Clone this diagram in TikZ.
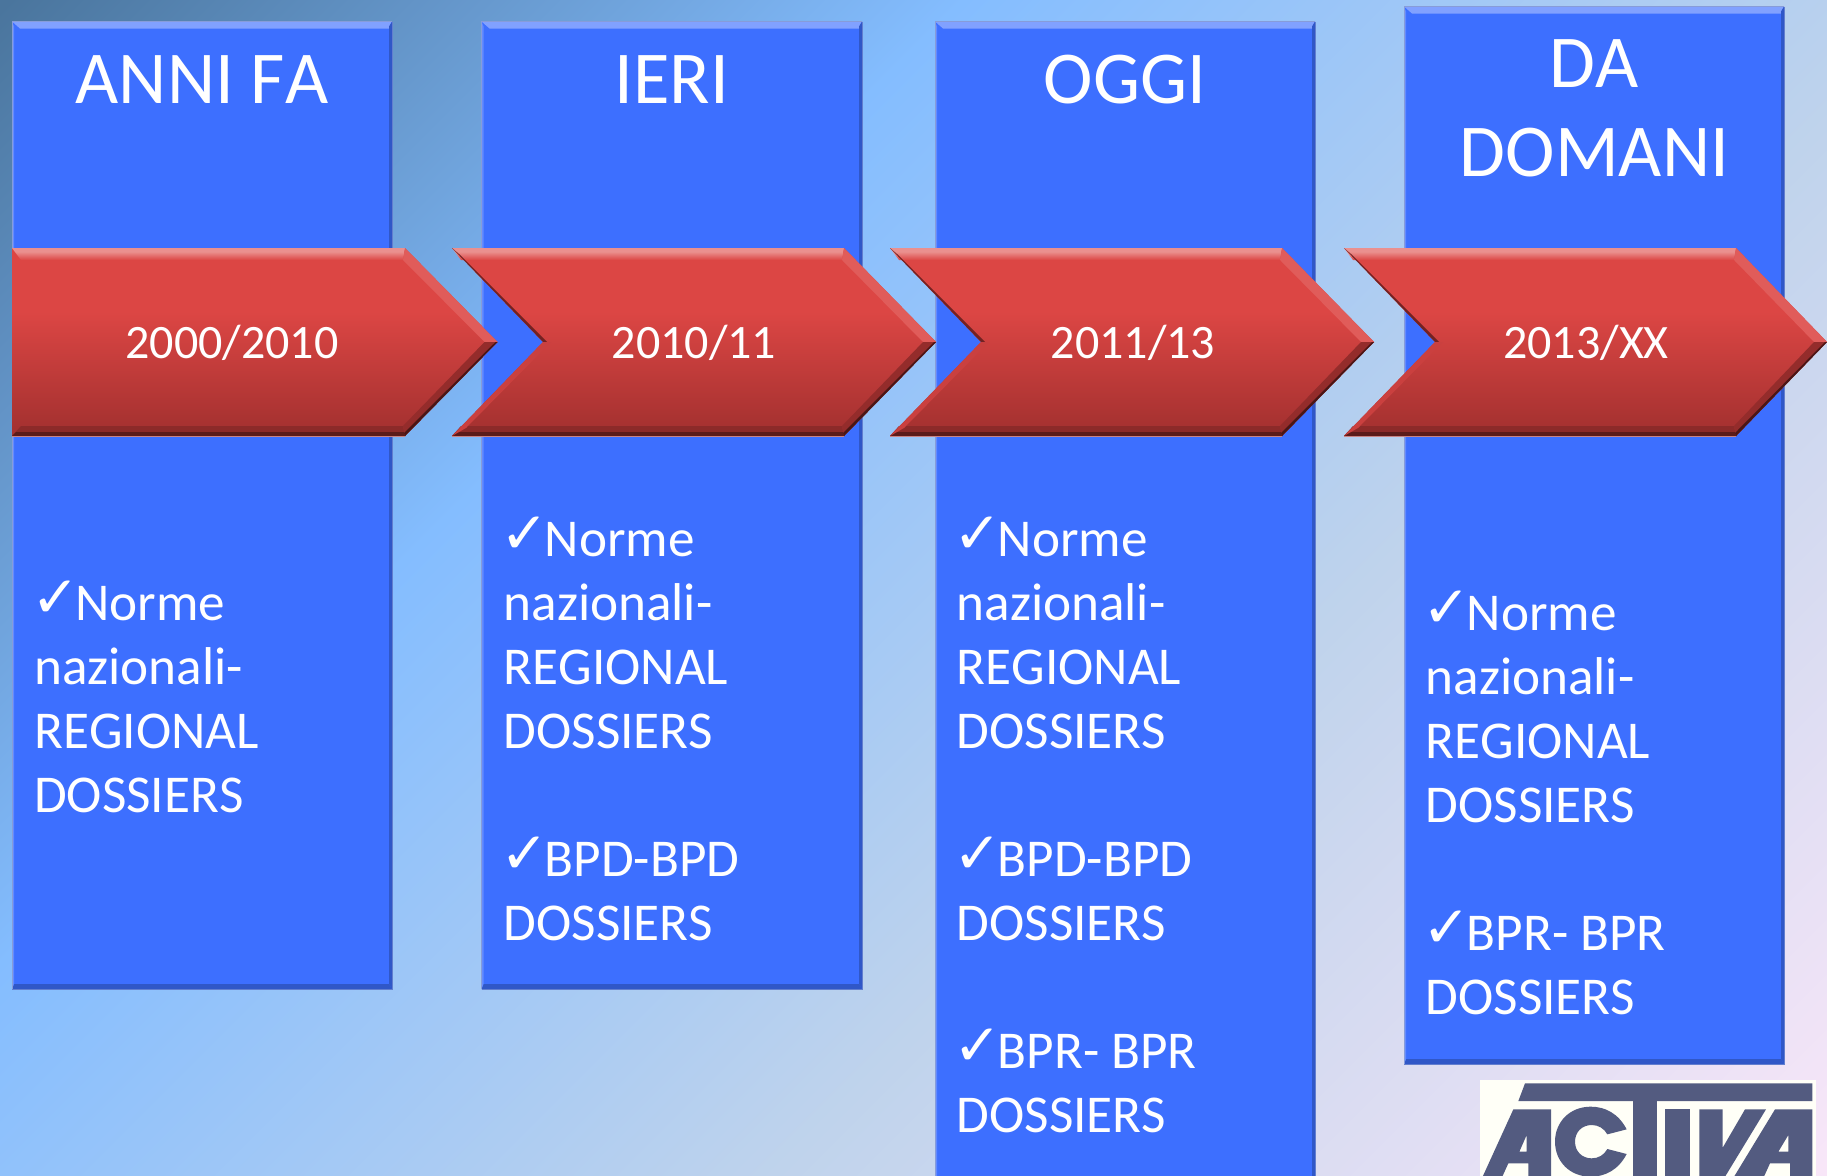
\documentclass[tikz,border=0pt]{standalone}
\usepackage{fontspec}
\setmainfont[Kerning=Off]{Carlito}
\newfontfamily\dejavu{DejaVu Sans}
\usetikzlibrary{calc}
\definecolor{bgA}{HTML}{4A759D}
\definecolor{bgB}{HTML}{84BDFF}
\definecolor{bgC}{HTML}{BFD3EC}
\definecolor{bgD}{HTML}{F8E6F8}
\definecolor{colblue}{HTML}{3D6FFF}
\definecolor{logoblue}{HTML}{535B80}
\definecolor{redtop}{HTML}{DC4644}
\definecolor{redbot}{HTML}{A53130}
\pgfdeclarehorizontalshading{bgshade}{100bp}{color(0bp)=(bgA); color(25bp)=(bgA); color(41bp)=(bgB); color(57.5bp)=(bgC); color(75bp)=(bgD); color(100bp)=(bgD)}
\pgfdeclareverticalshading{redshade}{100bp}{color(0bp)=(redbot); color(27bp)=(redbot); color(58bp)=(redtop); color(75bp)=(redtop); color(100bp)=(redtop)}
\pgfdeclareverticalshading{redtopshade}{100bp}{color(0bp)=(redtop); color(25bp)=(redtop); color(60bp)=(redtop!60!white); color(75bp)=(redtop!60!white); color(100bp)=(redtop!60!white)}
\tikzset{
  headtext/.style={text=white,font=\fontsize{74.6}{89}\selectfont,align=center,inner sep=0pt},
  bodytext/.style={text=white,font=\fontsize{53.2}{64}\selectfont,align=left,inner sep=0pt,anchor=north west},
  yeartext/.style={text=white,font=\fontsize{48}{56}\selectfont,inner sep=0pt,anchor=base},
  colface/.style={fill=colblue},
  logoink/.style={fill=logoblue,even odd rule}
}
\newcommand{\ck}{\makebox[41pt][l]{\hspace*{-3pt}\raisebox{3pt}{\dejavu\fontsize{58}{58}\selectfont ✓}}}
\newcommand{\topstrut}{\rule{0pt}{50pt}}
\newcommand{\colbox}[4]{% x1 y1 x2 y2
  \fill[colface] (#1,#2) rectangle (#3,#4);
  \fill[fill=white!35!colblue] (#1,#2) -- (#3,#2) -- (#3-3,#2+7) -- (#1+8,#2+7) -- cycle;
  \fill[fill=black!22!colblue] (#3,#2) -- (#3,#4) -- (#3-3,#4-5) -- (#3-3,#2+5) -- cycle;
  \fill[fill=black!22!colblue] (#1,#4) -- (#3,#4) -- (#3-3,#4-5) -- (#1+2,#4-5) -- cycle;
  \fill[fill=white!20!colblue] (#1,#2) -- (#1,#4) -- (#1+2,#4-5) -- (#1+2,#2+5) -- cycle;
  \draw[color=black!25!colblue!75!white,line width=1pt] (#1,#4) -- (#3,#4) -- (#3,#2);
  \draw[color=white!40!colblue!70!gray,line width=1pt] (#1,#4) -- (#1,#2) -- (#3,#2);
}
% left x, notch depth, shoulder x, tip x
\newcommand{\chev}[4]{%
  \path[shading=redshade] (#1,248) -- (#3,248) -- (#4,342) -- (#3,436) -- (#1,436) -- (#1+#2,342) -- cycle;
  \path[shading=redtopshade] (#1,248) -- (#3,248) -- (#3-2,260) -- (#1+9,260) -- cycle;
  \fill[fill=redtop!88!white] (#3,248) -- (#4,342) -- (#4-13,342) -- (#3-2,260) -- cycle;
  \fill[fill=redbot!85!black] (#1,436) -- (#3,436) -- (#3-2,426) -- (#1+9,426) -- cycle;
  \fill[fill=redbot!55!black] (#1,436) -- (#3,436) -- (#3-1,432) -- (#1+4,432) -- cycle;
  \fill[fill=redbot!90!black] (#3,436) -- (#4,342) -- (#4-13,342) -- (#3-2,426) -- cycle;
  \fill[fill=redbot!45!black] (#3,436) -- (#4,342) -- (#4-2,342) -- (#3-1,433) -- cycle;
  \draw[color=redbot!60!white,line width=1.2pt] (#1,436.5) -- (#3,436.5);
}
\newcommand{\chevnotch}[2]{%
  \fill[fill=redbot!70!black] (#1,248) -- (#1+#2,342) -- (#1+#2+4,342) -- (#1+7,254) -- cycle;
  \fill[fill=redtop!92!black] (#1,436) -- (#1+#2,342) -- (#1+#2+8,342) -- (#1+14,428) -- cycle;
}
\begin{document}
\begin{tikzpicture}[x=1pt,y=-1pt]
\useasboundingbox (0,0) rectangle (1827,1175);
\clip (0,0) rectangle (1827,1175);
% background
\path[shading=bgshade,shading angle=-45] (913.5-1061,587.5-1061) rectangle (913.5+1061,587.5+1061);
% columns
\colbox{12}{21.5}{392}{989}
\colbox{481.5}{21.5}{862}{989}
\colbox{935}{21.5}{1315}{1185}
\colbox{1404}{6.5}{1784}{1064}
% column heads
\node[headtext,anchor=base] (h1) at (202,103) {ANNI FA};
\node[headtext,anchor=base] (h2) at (672,103) {IERI};
\node[headtext,anchor=base] (h3) at (1125,103) {OGGI};
\node[headtext,anchor=north] (h4) at (1594.5,24) {\rule{0pt}{63pt}DA\\DOMANI};
% chevrons
\chev{12}{0}{405}{497.5}
\chev{452}{91}{844}{936}\chevnotch{452}{91}
\chev{890}{91}{1282}{1374}\chevnotch{890}{91}
\chev{1344}{91}{1736}{1827}\chevnotch{1344}{91}
\node[yeartext] (y1) at (232,358) {2000/2010};
\node[yeartext] (y2) at (694,358) {2010/11};
\node[yeartext] (y3) at (1133,358) {2011/13};
\node[yeartext] (y4) at (1586,358) {2013/XX};
% column bodies
\node[bodytext] (b1) at (34,570) {\topstrut\ck Norme\\nazionali-\\REGIONAL\\DOSSIERS};
\node[bodytext] (b2) at (503.5,506) {\topstrut\ck Norme\\nazionali-\\REGIONAL\\DOSSIERS\\\mbox{}\\\ck BPD-BPD\\DOSSIERS};
\node[bodytext] (b3) at (956.5,506) {\topstrut\ck Norme\\nazionali-\\REGIONAL\\DOSSIERS\\\mbox{}\\\ck BPD-BPD\\DOSSIERS\\\mbox{}\\\ck BPR- BPR\\DOSSIERS};
\node[bodytext] (b4) at (1425.5,580) {\topstrut\ck Norme\\nazionali-\\REGIONAL\\DOSSIERS\\\mbox{}\\\ck BPR- BPR\\DOSSIERS};
% logo
\fill[white!97!yellow] (1480,1080) rectangle (1816,1180);
\begin{scope}[shift={(1470,1075)},xscale=1/3,yscale=1/3]
  \fill[logoink] (165,25) -- (1027,25) -- (1027,78) -- (145,78) -- cycle;
  \fill[logoink] (490,78) rectangle (560,320);
  \fill[logoink] (130,103) -- (243,103) -- (243,320) -- (175,320) -- (175,265) -- (115,265) -- (90,320) -- (31,320) -- cycle
     (170,180) -- (170,230) -- (148,230) -- cycle;
  \fill[logoink] (470,163) .. controls (445,115) and (405,95) .. (362,95)
     .. controls (300,95) and (255,140) .. (255,200)
     .. controls (255,260) and (300,305) .. (362,305)
     .. controls (405,305) and (445,285) .. (470,237)
     -- (412,222) .. controls (402,240) and (385,250) .. (365,250)
     .. controls (335,250) and (315,228) .. (315,200)
     .. controls (315,172) and (335,150) .. (365,150)
     .. controls (385,150) and (402,160) .. (412,178) -- cycle;
  \fill[logoink] (585,103) rectangle (660,320);
  \fill[logoink] (688,103) -- (758,103) -- (758,218) -- (825,103) -- (888,103) -- (756,320) -- (688,320) -- cycle;
  \fill[logoink] (915,103) -- (1027,103) -- (1027,320) -- (960,320) -- (960,265) -- (900,265) -- (875,320) -- (783,320) -- cycle
     (955,180) -- (955,230) -- (925,230) -- cycle;
\end{scope}
\end{tikzpicture}
\end{document}
